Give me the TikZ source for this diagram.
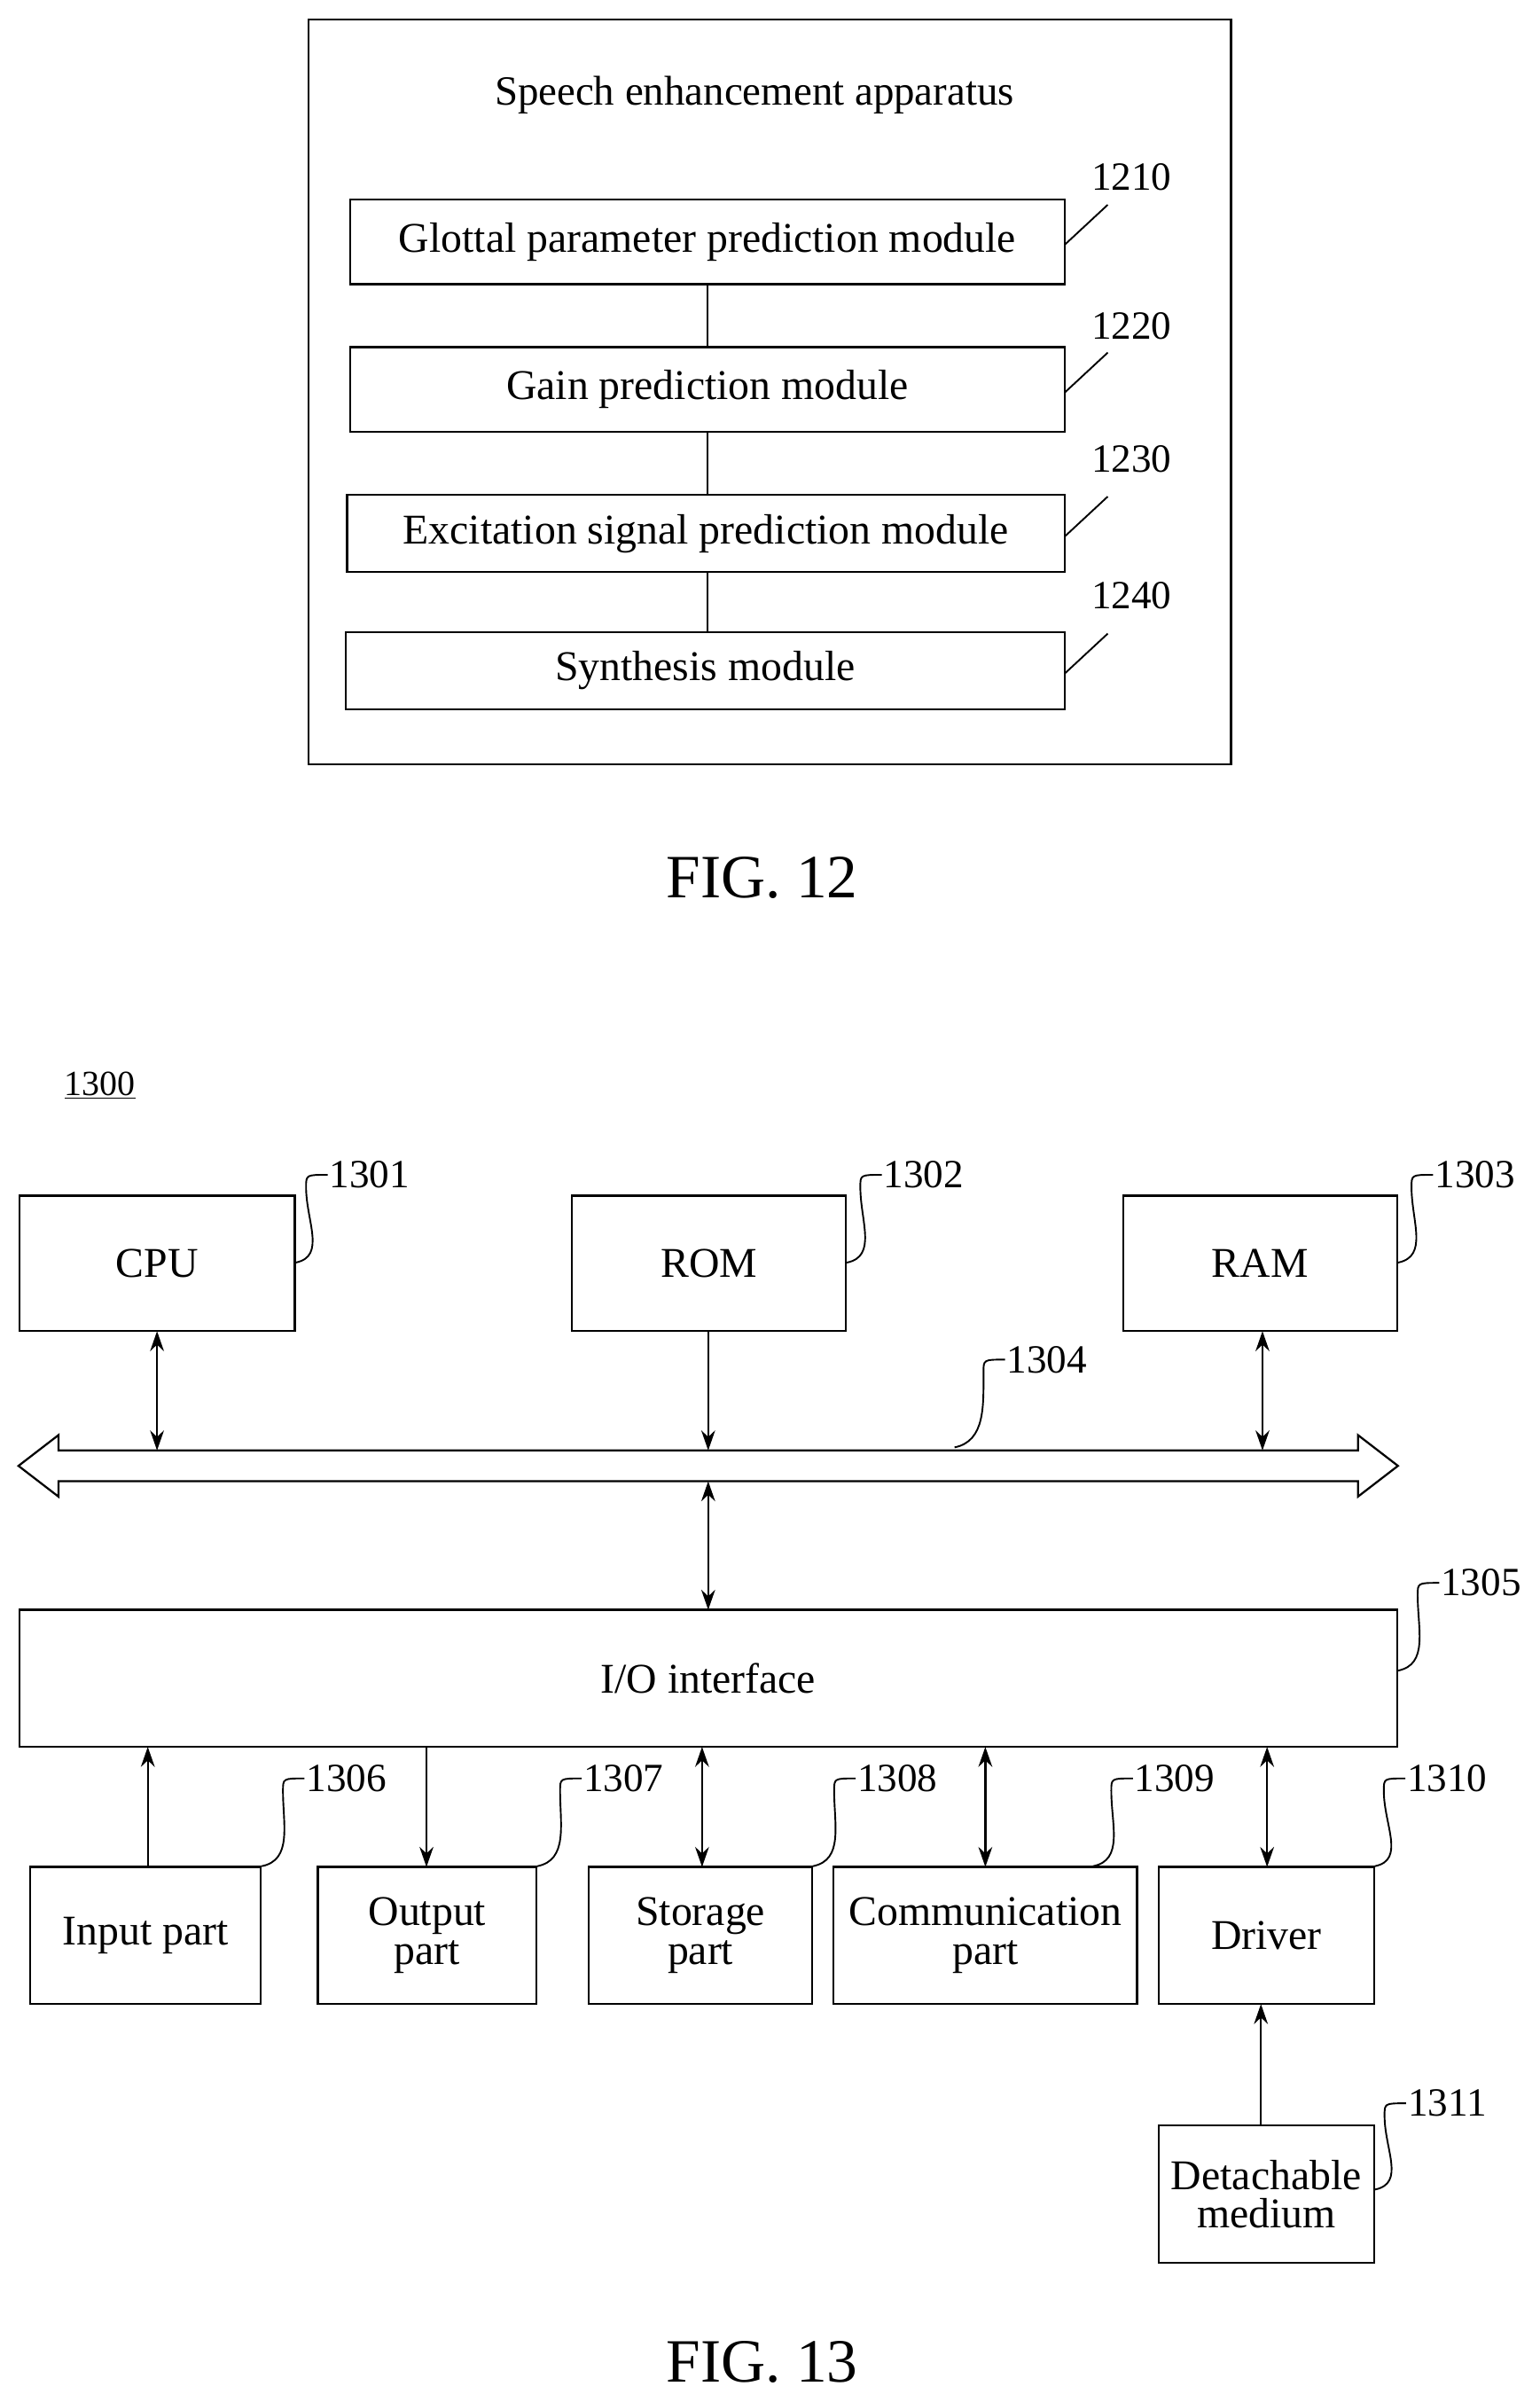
\documentclass[tikz,border=0pt]{standalone}
\usepackage{fontspec}
\setmainfont{Liberation Serif}
\usetikzlibrary{arrows.meta,calc}
\begin{document}
\begin{tikzpicture}[x=1pt,y=-1pt,
  box/.style={draw,line width=1.3pt,inner sep=0pt,outer sep=0pt,font=\fontsize{27.5}{30}\selectfont,align=center},
  lbl/.style={font=\fontsize{26}{28}\selectfont,inner sep=1pt},
  ln/.style={line width=1.3pt},
  ar/.style={ln,-{Stealth[length=13pt,width=9pt]}},
  dar/.style={ln,{Stealth[length=13pt,width=9pt]}-{Stealth[length=13pt,width=9pt]}},
  lead/.style={line width=1.1pt}]
\useasboundingbox (0,0) rectangle (1000,1560);
\fill[white] (0,0) rectangle (1000,1560);
% FIG 12
\node[draw,line width=1.3pt,minimum width=599pt,minimum height=484pt,inner sep=0pt] (outer) at (500,254.5) {};
\node[lbl,font=\fontsize{27}{29}\selectfont] (title) at (490,62) {Speech enhancement apparatus};
\def\mb#1#2#3#4#5{\node[box,minimum width=#3pt,minimum height=#4pt] (#1) at (#2) {#5};}
\mb{g1}{459.5,157}{464}{55}{Glottal parameter prediction module}
\mb{g2}{459.5,253}{464}{55}{Gain prediction module}
\mb{g3}{458.5,346.5}{466}{50}{Excitation signal prediction module}
\mb{g4}{458,435.5}{467}{50}{Synthesis module}
\draw[ln] (g1.south) -- (g2.north);
\draw[ln] (g2.south -| g1.south) -- (g3.north -| g1.south);
\draw[ln] (g3.south -| g1.south) -- (g4.north -| g1.south);
\foreach \n/\t/\y in {g1/1210/115,g2/1220/212,g3/1230/298,g4/1240/387}{
  \node[lbl] (l\t) at (735,\y) {\t};
  \draw[lead] (\n.east) ++(0,2) -- ++(28,-26);
}
\node[font=\fontsize{40}{44}\selectfont] (f12) at (495,570) {FIG. 12};
% FIG 13
\node[lbl,font=\fontsize{23}{25}\selectfont] (n1300) at (65,705) {\underline{1300}};
\node[box,minimum width=179pt,minimum height=88pt] (cpu) at (102,820.5) {CPU};
\node[box,minimum width=178pt,minimum height=88pt] (rom) at (460.5,820.5) {ROM};
\node[box,minimum width=178pt,minimum height=88pt] (ram) at (818.5,820.5) {RAM};
% bus
\draw[ln] (12,952) -- (38,932) -- (38,942) -- (882,942) -- (882,932) -- (908,952) -- (882,972) -- (882,962) -- (38,962) -- (38,972) -- cycle;
\coordinate (b1) at (102,942); \coordinate (b2) at (460,942); \coordinate (b3) at (820,942);
\coordinate (b4) at (460,962);
\draw[dar] (cpu.south) -- (b1);
\draw[ar] (rom.south -| b2) -- (b2);
\draw[dar] (ram.south -| b3) -- (b3);
\node[box,minimum width=895pt,minimum height=89pt] (io) at (460,1090) {I/O interface};
\draw[dar] (b4) -- (io.north -| b4);
% bottom
\node[box,minimum width=150pt,minimum height=89pt] (inp) at (94.5,1257) {Input part};
\node[box,minimum width=142pt,minimum height=89pt] (outp) at (277.5,1257) {Output\\[-5pt]part};
\node[box,minimum width=145pt,minimum height=89pt] (stor) at (455,1257) {Storage\\[-5pt]part};
\node[box,minimum width=197pt,minimum height=89pt] (comm) at (640,1257) {Communication\\[-5pt]part};
\node[box,minimum width=140pt,minimum height=89pt] (drv) at (822.5,1257) {Driver};
\node[box,minimum width=140pt,minimum height=89pt] (det) at (822.5,1425) {Detachable\\[-5pt]medium};
\draw[ar] (inp.north -| 96,0) -- (io.south -| 96,0);
\draw[ar] (io.south -| 277,0) -- (outp.north -| 277,0);
\draw[dar] (io.south -| 456,0) -- (stor.north -| 456,0);
\draw[dar] (io.south -| 640,0) -- (comm.north -| 640,0);
\draw[dar] (io.south -| 823,0) -- (drv.north -| 823,0);
\draw[ar] (det.north -| 819,0) -- (drv.south -| 819,0);
% leaders
\foreach \t/\lx/\ly/\px/\py in {1301/240/763/192/820, 1302/600/763/550/820, 1303/958/763/908/820,
  1304/680/883/620/940, 1305/962/1028/908/1085,
  1306/225/1155/170/1212, 1307/405/1155/349/1212, 1308/583/1155/528/1212,
  1309/763/1155/710/1212, 1310/940/1155/893/1212, 1311/940/1366/893/1422}{
  \node[lbl] (n\t) at (\lx,\ly) {\t};
  \coordinate (p\t) at (\px,\py);
  \draw[lead] (p\t) .. controls +(20,-4) and +(0,22) .. ($(n\t.west)+(-14,8)$) .. controls +(0,-8) .. (n\t.west);
}
\node[font=\fontsize{40}{44}\selectfont] (f13) at (495,1534) {FIG. 13};
\end{tikzpicture}
\end{document}
